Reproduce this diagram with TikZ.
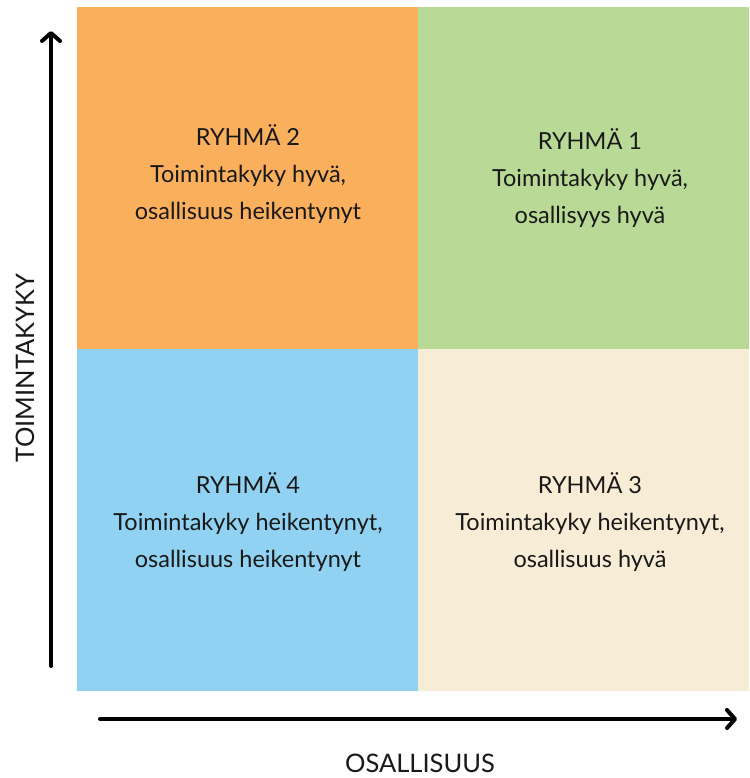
\documentclass[tikz,border=0pt]{standalone}
\usepackage{fontspec}
\setmainfont{Lato}
\usetikzlibrary{arrows.meta}
\definecolor{qorange}{RGB}{250,175,92}
\definecolor{qgreen}{RGB}{185,218,150}
\definecolor{qblue}{RGB}{145,209,241}
\definecolor{qbeige}{RGB}{247,236,214}
\tikzset{
  quad/.style={draw=none, inner sep=0pt, anchor=north west},
  qtext/.style={align=center, font=\fontsize{23.5}{37}\selectfont, text=black!90, inner sep=0pt},
  axislabel/.style={font=\fontsize{25.5}{28}\selectfont, text=black!90, inner sep=0pt},
  axis/.style={line width=4pt, line cap=round, -{Straight Barb[length=8pt,width=18pt,line cap=round,line join=round]}}
}
\begin{document}
\begin{tikzpicture}[x=1pt,y=-1pt]
\useasboundingbox (0,0) rectangle (749,778);
\fill[white] (0,0) rectangle (749,778);
\node[quad, fill=qorange, minimum width=341pt, minimum height=342pt] (q2) at (77,7) {};
\node[quad, fill=qgreen, minimum width=331pt, minimum height=342pt] (q1) at (418,7) {};
\node[quad, fill=qblue, minimum width=341pt, minimum height=342pt] (q4) at (77,349) {};
\node[quad, fill=qbeige, minimum width=331pt, minimum height=342pt] (q3) at (418,349) {};
\node[qtext] (t2) at (248,174) {RYHMÄ 2\\Toimintakyky hyvä,\\osallisuus heikentynyt};
\node[qtext] (t1) at (590,178) {RYHMÄ 1\\Toimintakyky hyvä,\\osallisyys hyvä};
\node[qtext] (t4) at (248,522) {RYHMÄ 4\\Toimintakyky heikentynyt,\\osallisuus heikentynyt};
\node[qtext] (t3) at (590,522) {RYHMÄ 3\\Toimintakyky heikentynyt,\\osallisuus hyvä};
\coordinate (vstart) at (51,666);
\coordinate (vend) at (51,31);
\coordinate (hstart) at (100,719);
\coordinate (hend) at (737,719);
\draw[axis] (vstart) -- (vend);
\draw[axis] (hstart) -- (hend);
\node[axislabel, rotate=90] (ly) at (25,368) {TOIMINTAKYKY};
\node[axislabel] (lx) at (420,763) {OSALLISUUS};
\end{tikzpicture}
\end{document}
